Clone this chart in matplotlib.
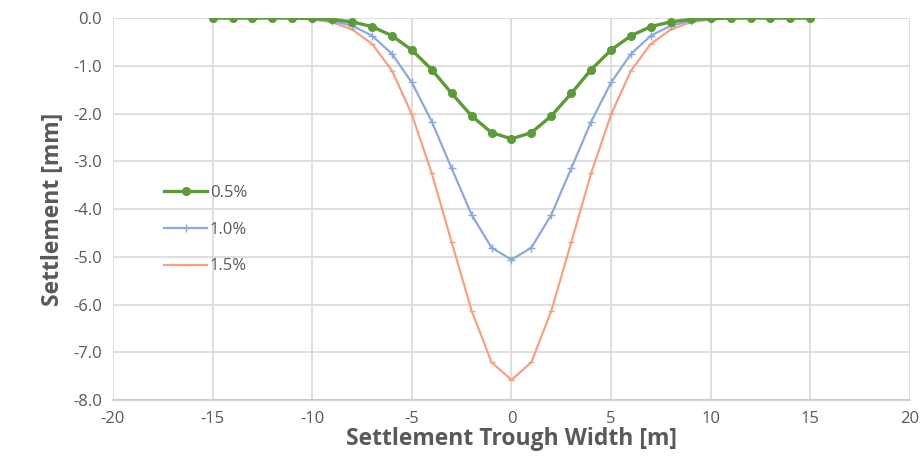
import matplotlib
matplotlib.use("Agg")
import matplotlib.pyplot as plt
from matplotlib.ticker import FormatStrFormatter

plt.rcParams['font.family'] = ['Open Sans', 'DejaVu Sans']
plt.rcParams['axes.unicode_minus'] = False

# trough width positions [m]
x = list(range(-15, 16))

# half profiles from centre (0) out to 15 m, mirrored below
half_05 = [-2.53, -2.40, -2.05, -1.58, -1.08, -0.67, -0.37, -0.18, -0.08, -0.03,
           -0.01, 0.0, 0.0, 0.0, 0.0, 0.0]
half_10 = [-5.06, -4.81, -4.12, -3.15, -2.17, -1.35, -0.75, -0.37, -0.16, -0.06,
           -0.02, 0.0, 0.0, 0.0, 0.0, 0.0]
half_15 = [-7.58, -7.21, -6.13, -4.70, -3.25, -2.02, -1.10, -0.54, -0.24, -0.09,
           -0.03, -0.01, 0.0, 0.0, 0.0, 0.0]

def full(half):
    return half[:0:-1] + half

s_05 = full(half_05)
s_10 = full(half_10)
s_15 = full(half_15)

fig = plt.figure(figsize=(9.21, 4.69), dpi=100)
ax = fig.add_axes([0.1227, 0.1471, 0.8653, 0.8145])

ax.plot(x, s_05, color='#5c9a3c', lw=2.4, marker='o', ms=5.5, label='0.5%', zorder=4)
ax.plot(x, s_10, color='#8ea8dc', lw=1.6, marker='+', ms=6, mew=1.0, label='1.0%', zorder=3)
ax.plot(x, s_15, color='#f4a184', lw=1.6, marker='_', ms=5, mew=1.0, label='1.5%', zorder=2)

ax.set_xlim(-20, 20)
ax.set_ylim(-8, 0)
ax.set_xticks(range(-20, 21, 5))
ax.set_yticks(range(-8, 1))
ax.yaxis.set_major_formatter(FormatStrFormatter('%.1f'))

ax.grid(True, color='#d9d9d9', lw=1.2)
ax.set_axisbelow(True)
for side in ['top', 'right', 'left']:
    ax.spines[side].set_visible(False)
ax.spines['bottom'].set_color('#c8c8c8')
ax.spines['bottom'].set_linewidth(1.2)
ax.tick_params(length=0, labelsize=12, labelcolor='#595959', pad=8)

ax.set_xlabel('Settlement Trough Width [m]', fontsize=16.5, fontweight='bold',
              color='#595959', labelpad=0)
ax.set_ylabel('Settlement [mm]', fontsize=16.5, fontweight='bold',
              color='#595959', labelpad=6)

leg = ax.legend(loc='upper left', bbox_to_anchor=(0.178, 0.606),
                bbox_transform=fig.transFigure, frameon=False, fontsize=12,
                handlelength=2.6, handletextpad=0.15, labelspacing=1.25,
                borderpad=0, borderaxespad=0)
for t in leg.get_texts():
    t.set_color('#595959')

fig.savefig('out.png', dpi=100)
